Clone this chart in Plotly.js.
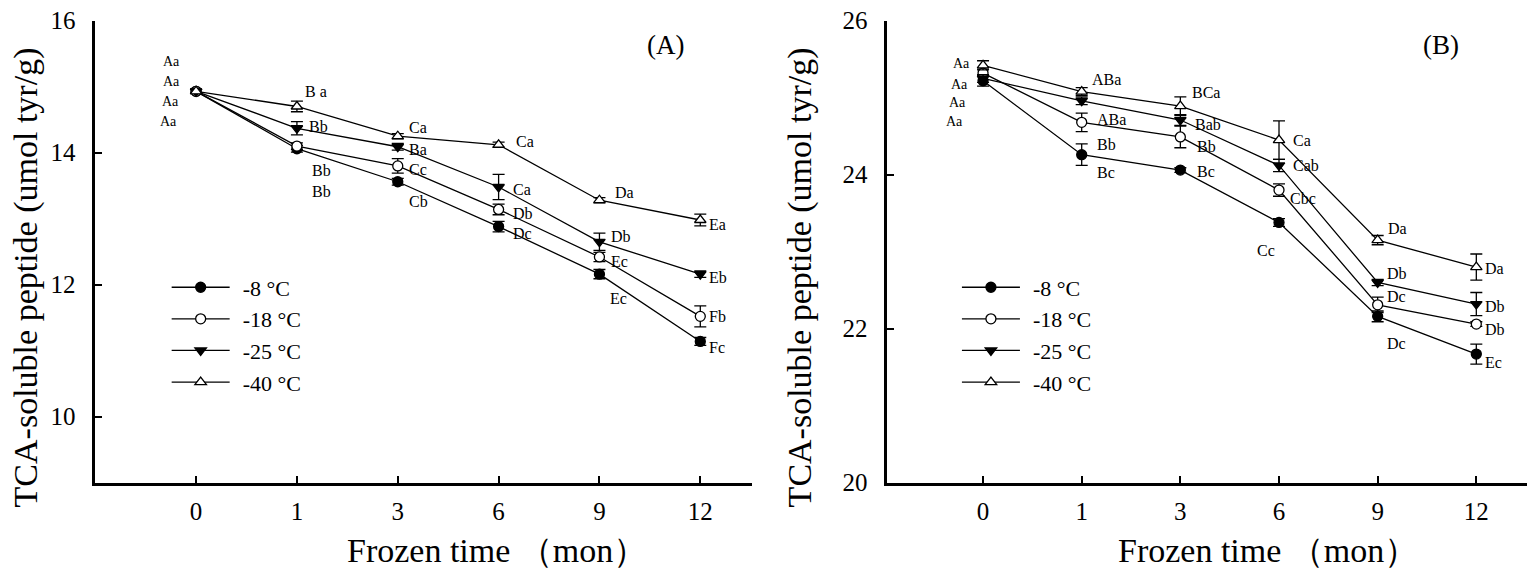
<!DOCTYPE html>
<html>
<head>
<meta charset="utf-8">
<script src="https://cdn.plot.ly/plotly-3.0.1.min.js"></script>
<style>html,body{margin:0;padding:0;background:#fff;}</style>
</head>
<body>
<div id="chart" style="width:1536px;height:578px;"></div>
<script>
// frozen storage months (categorical axis)
var months = ['0', '1', '3', '6', '9', '12'];
var tempNames = ['-8 °C', '-18 °C', '-25 °C', '-40 °C'];

// panel A values and error bars
var a8 = [14.93, 14.06, 13.56, 12.88, 12.16, 11.14];
var a18 = [14.93, 14.10, 13.80, 13.14, 12.42, 11.52];
var a25 = [14.93, 14.37, 14.09, 13.48, 12.65, 12.16];
var a40 = [14.93, 14.70, 14.25, 14.12, 13.28, 12.98];
var a8err = [0.03, 0.05, 0.05, 0.08, 0.07, 0.06];
var a18err = [0.03, 0.05, 0.11, 0.08, 0.07, 0.16];
var a25err = [0.03, 0.10, 0.05, 0.19, 0.13, 0.05];
var a40err = [0.03, 0.08, 0.04, 0.04, 0.04, 0.09];

// panel B values and error bars
var b8 = [25.22, 24.26, 24.06, 23.38, 22.16, 21.67];
var b18 = [25.32, 24.68, 24.49, 23.80, 22.31, 22.06];
var b25 = [25.25, 24.96, 24.71, 24.12, 22.60, 22.32];
var b40 = [25.42, 25.08, 24.89, 24.45, 23.15, 22.80];
var b8err = [0.07, 0.14, 0.03, 0.05, 0.07, 0.13];
var b18err = [0.05, 0.12, 0.14, 0.08, 0.10, 0.03];
var b25err = [0.05, 0.05, 0.07, 0.08, 0.04, 0.15];
var b40err = [0.06, 0.05, 0.12, 0.25, 0.06, 0.17];

// significance letters
var la8 = ['Aa', 'Bb', 'Cb', 'Dc', 'Ec', 'Fc'];
var la18 = ['Aa', 'Bb', 'Cc', 'Db', 'Ec', 'Fb'];
var la25 = ['Aa', 'Bb', 'Ba', 'Ca', 'Db', 'Eb'];
var la40 = ['Aa', 'B a', 'Ca', 'Ca', 'Da', 'Ea'];
var lb8 = ['Aa', 'Bc', 'Bc', 'Cc', 'Dc', 'Ec'];
var lb18 = ['Aa', 'ABa', 'Bb', 'Cbc', 'Dc', 'Db'];
var lb25 = ['Aa', 'Bb', 'Bab', 'Cab', 'Db', 'Db'];
var lb40 = ['Aa', 'ABa', 'BCa', 'Ca', 'Da', 'Da'];

// pixel offsets of the letters from their point [dx, dy]
var oa8 = [[-17, 30], [13, 43], [9, 20], [12, 7], [9, 24], [7, 6]];
var oa18 = [[-15, 10], [13, 24], [9, 4], [12, 4], [10, 5], [7, 0]];
var oa25 = [[-14, -10], [10, -2], [9, 3], [12, 2], [10, -5], [7, 3]];
var oa40 = [[-14, -30], [6, -15], [9, -9], [15, -3], [14, -8], [7, 4]];
var ob8 = [[-18, 41], [13, 18], [15, 1], [-2, 28], [7, 27], [7, 8]];
var ob18 = [[-13, 11], [13, -3], [15, 10], [9, 8], [7, -8], [7, 5]];
var ob25 = [[-15, 24], [13, 44], [13, 4], [12, 0], [7, -9], [7, 2]];
var ob40 = [[-11, -2], [8, -12], [10, -14], [12, 0], [8, -12], [7, 1]];

var serif = 'Liberation Serif, Times New Roman, serif';

var markers = [
  { symbol: 'circle', size: 10, color: 'black', line: { color: 'black', width: 1.3 } },
  { symbol: 'circle', size: 10, color: 'white', line: { color: 'black', width: 1.3 } },
  { symbol: 'triangle-down', size: 10, color: 'black', line: { color: 'black', width: 1.3 } },
  { symbol: 'triangle-up', size: 10, color: 'white', line: { color: 'black', width: 1.3 } }
];

function makeTrace(i, vals, errs, xa, ya, legendId) {
  return {
    type: 'scatter',
    mode: 'lines+markers',
    name: tempNames[i],
    x: months,
    y: vals,
    xaxis: xa,
    yaxis: ya,
    legend: legendId,
    line: { color: 'black', width: 1.3 },
    marker: markers[i],
    error_y: { type: 'data', array: errs, visible: true, color: 'black', thickness: 1.3, width: 6 },
    hoverinfo: 'x+y'
  };
}

var data = [
  makeTrace(0, a8, a8err, 'x', 'y', 'legend'),
  makeTrace(1, a18, a18err, 'x', 'y', 'legend'),
  makeTrace(2, a25, a25err, 'x', 'y', 'legend'),
  makeTrace(3, a40, a40err, 'x', 'y', 'legend'),
  makeTrace(0, b8, b8err, 'x2', 'y2', 'legend2'),
  makeTrace(1, b18, b18err, 'x2', 'y2', 'legend2'),
  makeTrace(2, b25, b25err, 'x2', 'y2', 'legend2'),
  makeTrace(3, b40, b40err, 'x2', 'y2', 'legend2')
];

// letters sit next to their point; x is the category index of the month
function letterNotes(labels, vals, offs, xref, yref) {
  var notes = [];
  for (var i = 0; i < labels.length; i++) {
    notes.push({
      x: i, y: vals[i], xref: xref, yref: yref,
      text: labels[i], showarrow: false,
      xanchor: offs[i][0] < 0 ? 'right' : 'left', yanchor: 'middle',
      xshift: offs[i][0], yshift: -offs[i][1],
      font: { family: serif, size: i === 0 ? 14 : 16, color: 'black' }
    });
  }
  return notes;
}

var annotations = []
  .concat(letterNotes(la8, a8, oa8, 'x', 'y'))
  .concat(letterNotes(la18, a18, oa18, 'x', 'y'))
  .concat(letterNotes(la25, a25, oa25, 'x', 'y'))
  .concat(letterNotes(la40, a40, oa40, 'x', 'y'))
  .concat(letterNotes(lb8, b8, ob8, 'x2', 'y2'))
  .concat(letterNotes(lb18, b18, ob18, 'x2', 'y2'))
  .concat(letterNotes(lb25, b25, ob25, 'x2', 'y2'))
  .concat(letterNotes(lb40, b40, ob40, 'x2', 'y2'));

function paperText(text, x, y, size, angle) {
  return {
    text: text, xref: 'paper', yref: 'paper', x: x, y: y,
    xanchor: 'center', yanchor: 'middle', textangle: angle || 0, showarrow: false,
    font: { family: serif, size: size, color: 'black' }
  };
}

// panel tags and axis titles
annotations.push(
  paperText('(A)', 0.433, 0.922, 27),
  paperText('(B)', 0.938, 0.922, 27),
  paperText('Frozen time （mon）', 0.3236, 0.048, 34),
  paperText('Frozen time （mon）', 0.8255, 0.048, 34),
  paperText('TCA-soluble peptide (umol tyr/g)', 0.0169, 0.52, 34, -90),
  paperText('TCA-soluble peptide (umol tyr/g)', 0.5208, 0.52, 34, -90)
);

function xAxis(domain, range, anchor) {
  return {
    domain: domain, type: 'category', range: range, anchor: anchor,
    showline: true, linecolor: 'black', linewidth: 2.5,
    ticks: 'inside', ticklen: 7, tickwidth: 2, tickcolor: 'black',
    showgrid: false, zeroline: false, ticklabelstandoff: 5,
    tickfont: { family: serif, size: 25, color: 'black' }
  };
}

function yAxis(domain, range, ticks, anchor) {
  return {
    domain: domain, range: range, anchor: anchor, tickvals: ticks,
    showline: true, linecolor: 'black', linewidth: 2.5,
    ticks: 'inside', ticklen: 7, tickwidth: 2, tickcolor: 'black',
    showgrid: false, zeroline: false, ticklabelstandoff: 12,
    tickfont: { family: serif, size: 25, color: 'black' }
  };
}

var legendStyle = {
  xanchor: 'left', yanchor: 'top', y: 0.539,
  bgcolor: 'rgba(0,0,0,0)', borderwidth: 0, itemwidth: 66,
  tracegroupgap: 0, font: { family: serif, size: 22, color: 'black' }
};

var layout = {
  width: 1536,
  height: 578,
  margin: { l: 0, r: 0, t: 0, b: 0 },
  paper_bgcolor: 'white',
  plot_bgcolor: 'white',
  showlegend: true,
  xaxis: xAxis([0.062, 0.4894], [-1.0, 5.51], 'y'),
  yaxis: yAxis([0.1649, 0.9642], [9, 16], [10, 12, 14, 16], 'x'),
  xaxis2: xAxis([0.5777, 0.9939], [-0.97, 5.51], 'y2'),
  yaxis2: yAxis([0.1649, 0.9642], [20, 26], [20, 22, 24, 26], 'x2'),
  legend: Object.assign({ x: 0.1085 }, legendStyle),
  legend2: Object.assign({ x: 0.623 }, legendStyle),
  annotations: annotations
};

Plotly.newPlot('chart', data, layout, { displayModeBar: false }).then(function () {
  // stretch legend sample lines like the original figure
  document.querySelectorAll('g.legendlines path').forEach(function (p) {
    p.setAttribute('d', 'M5,0h58');
  });
  document.querySelectorAll('g.legendpoints path').forEach(function (p) {
    p.setAttribute('transform', 'translate(34,0)');
  });
});
</script>
</body>
</html>
